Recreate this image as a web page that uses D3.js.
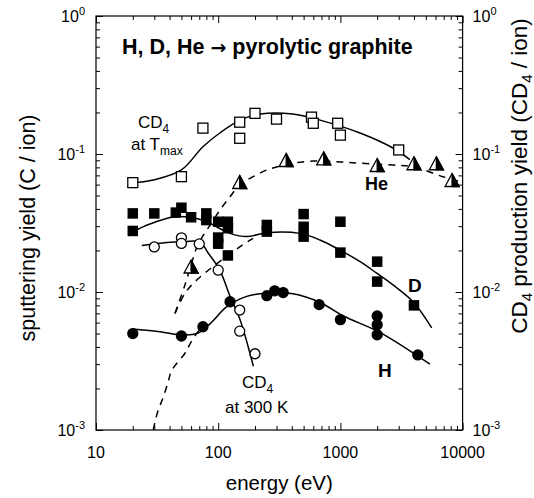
<!DOCTYPE html>
<meta charset="utf-8">
<body style="margin:0">
<div id="chart"></div>
<script src="https://d3js.org/d3.v7.min.js"></script>
<script>
// axis ticks
var xTicks = [10, 100, 1000, 10000];
var yTicks = [1e-3, 1e-2, 1e-1, 1];

// H -> C sputtering yield (filled circles) and fit
var hData = [[20,0.0050],[50,0.0048],[75,0.0056],[125,0.0085],[250,0.0094],[290,0.0102],[340,0.0099],
  [670,0.0081],[1000,0.0063],[2000,0.0067],[2000,0.0058],[2000,0.0049],[4300,0.0035]];
var hFit = [[20,0.0054],[31,0.0052],[49,0.0049],[67,0.0050],[86,0.0059],[117,0.0078],[171,0.0093],
  [250,0.0098],[410,0.0097],[680,0.0084],[1060,0.0067],[2100,0.0051],[5400,0.0030]];
var hLow = [[29.4,0.001],[32,0.00136],[35.6,0.00174],[39,0.00224],[41.6,0.0027],[53.5,0.0036],
  [57,0.0040],[62.4,0.0046],[68.7,0.0052],[75,0.0056]];

// D -> C sputtering yield (filled squares) and fit
var dData = [[20,0.0371],[20,0.0277],[30,0.0371],[45,0.0376],[50,0.0408],[60,0.0348],[80,0.0371],
  [80,0.0332],[100,0.0323],[120,0.0323],[120,0.0290],[100,0.0248],[100,0.0224],[120,0.0184],
  [250,0.0306],[250,0.0274],[500,0.0367],[500,0.0297],[500,0.0252],[1000,0.0323],[1000,0.0193],
  [2000,0.0166],[2000,0.0119],[4000,0.0080]];
var dFit = [[18.4,0.0255],[23,0.029],[31,0.0323],[44,0.0351],[59,0.0348],[78,0.0327],[97,0.0297],
  [125,0.0266],[171,0.0252],[250,0.0269],[467,0.0266],[681,0.0238],[993,0.0201],[1450,0.0166],
  [1980,0.0137],[2710,0.0112],[3930,0.0085],[5590,0.0055]];
var dLow = [[44.3,0.0070],[53.5,0.0098],[66.7,0.0122],[91,0.0153],[151,0.0213],[193,0.0245]];

// He -> C sputtering yield (half filled triangles) and fit
var heData = [[60,0.0153],[150,0.0627],[360,0.0905],[730,0.093],[2000,0.0832],[4000,0.0857],
  [6100,0.0857],[8200,0.0648]];
var heFit = [[44.3,0.0070],[53,0.0110],[61,0.0165],[66.7,0.0210],[73,0.0245],[86,0.0306],
  [105,0.040],[125,0.049],[150,0.0596],[193,0.0685],[250,0.0766],[300,0.0806],[410,0.0857],
  [600,0.089],[930,0.088],[1450,0.0857],[2700,0.0832],[3900,0.081],[6900,0.0685],[9600,0.063]];

// CD4 production at T max (open squares) and fit
var tmaxData = [[20,0.062],[50,0.0685],[75,0.154],[150,0.170],[150,0.130],[200,0.197],[300,0.179],
  [580,0.185],[600,0.167],[950,0.167],[1000,0.137],[3000,0.107]];
var tmaxFit = [[18.4,0.0613],[30,0.065],[50,0.0766],[75,0.113],[103,0.142],[151,0.176],[220,0.195],
  [409,0.195],[681,0.176],[1447,0.142],[2692,0.1105],[3700,0.091]];

// CD4 production at 300 K (open circles) and fit
var rtData = [[30,0.0212],[50,0.0247],[50,0.0225],[70,0.0223],[100,0.0144],[150,0.0074],
  [150,0.0052],[200,0.00357]];
var rtFit = [[23.7,0.0217],[38,0.0228],[50,0.0231],[71,0.023],[83,0.0191],[103,0.0144],
  [125,0.0093],[151,0.0063],[194,0.0029]];

var width = 534, height = 498;
var plotL = 96, plotR = 462.6, plotT = 16, plotB = 430;
var font = "'Liberation Sans', Arial, sans-serif";

var x = d3.scaleLog().domain([10, 10000]).range([plotL, plotR]);
var y = d3.scaleLog().domain([1e-3, 1]).range([plotB, plotT]);

var svg = d3.select("#chart").append("svg")
  .attr("width", width).attr("height", height)
  .style("font-family", font);

svg.append("clipPath").attr("id", "plot")
  .append("rect").attr("x", plotL).attr("y", plotT)
  .attr("width", plotR - plotL).attr("height", plotB - plotT);

// minor ticks
var minorX = x.ticks().filter(function(d) { return xTicks.indexOf(d) < 0; });
var minorY = y.ticks().filter(function(d) { return yTicks.indexOf(d) < 0; });

function axisSet(g, axis, major, minor) {
  g.call(axis.tickValues(minor).tickSize(-4).tickFormat(""));
  var m = g.append("g");
  m.call(axis.tickValues(major).tickSize(-7));
  m.select(".domain").remove();
  g.selectAll("text").remove();
  g.select(".domain").remove();
  g.selectAll("line").attr("stroke", "#000");
}

svg.append("g").attr("transform", "translate(0," + plotB + ")")
  .call(axisSet, d3.axisBottom(x), xTicks, minorX);
svg.append("g").attr("transform", "translate(0," + plotT + ")")
  .call(axisSet, d3.axisTop(x), xTicks, minorX);
svg.append("g").attr("transform", "translate(" + plotL + ",0)")
  .call(axisSet, d3.axisLeft(y), yTicks, minorY);
svg.append("g").attr("transform", "translate(" + plotR + ",0)")
  .call(axisSet, d3.axisRight(y), yTicks, minorY);
svg.append("rect").attr("x", plotL).attr("y", plotT)
  .attr("width", plotR - plotL).attr("height", plotB - plotT)
  .attr("fill", "none").attr("stroke", "#000").attr("stroke-width", 1.2);

// tick labels
svg.append("g").selectAll("text").data(xTicks).enter().append("text")
  .attr("x", function(d) { return x(d); })
  .attr("y", plotB + 28)
  .attr("text-anchor", "middle")
  .style("font-size", "16px")
  .text(function(d) { return d; });

function powLabel(sel) {
  sel.style("font-size", "16px")
    .text("10")
    .append("tspan").attr("dy", -7).style("font-size", "11px")
    .text(function(d) { return Math.round(Math.log10(d)); });
}
svg.append("g").selectAll("text").data(yTicks).enter().append("text")
  .attr("x", plotL - 11).attr("y", function(d) { return y(d) + 6; })
  .attr("text-anchor", "end").call(powLabel);
svg.append("g").selectAll("text").data(yTicks).enter().append("text")
  .attr("x", plotR + 10).attr("y", function(d) { return y(d) + 6; })
  .attr("text-anchor", "start").call(powLabel);

// axis titles
svg.append("text").attr("x", (plotL + plotR) / 2).attr("y", 490)
  .attr("text-anchor", "middle").style("font-size", "20.5px").text("energy (eV)");
svg.append("text").attr("transform", "translate(35,228) rotate(-90)")
  .attr("text-anchor", "middle").style("font-size", "21.5px").text("sputtering yield (C / ion)");
var rt = svg.append("text").attr("transform", "translate(527,176) rotate(-90)")
  .attr("text-anchor", "middle").style("font-size", "22.5px");
rt.append("tspan").text("CD");
rt.append("tspan").attr("dy", 5).style("font-size", "15px").text("4");
rt.append("tspan").attr("dy", -5).text(" production yield (CD");
rt.append("tspan").attr("dy", 5).style("font-size", "15px").text("4");
rt.append("tspan").attr("dy", -5).text(" / ion)");

// curves
var line = d3.line()
  .x(function(d) { return x(d[0]); })
  .y(function(d) { return y(d[1]); })
  .curve(d3.curveCatmullRom.alpha(0.5));

var curves = svg.append("g").attr("clip-path", "url(#plot)")
  .attr("fill", "none").attr("stroke", "#000").attr("stroke-width", 1.5);
[tmaxFit, dFit, hFit, rtFit].forEach(function(c) {
  curves.append("path").attr("d", line(c));
});
[heFit, dLow, hLow].forEach(function(c) {
  curves.append("path").attr("d", line(c)).attr("stroke-dasharray", "7,6");
});

// markers
var marks = svg.append("g").attr("stroke", "#000").attr("stroke-width", 1.3);
marks.selectAll(".sq").data(tmaxData).enter().append("rect")
  .attr("x", function(d) { return x(d[0]) - 5; })
  .attr("y", function(d) { return y(d[1]) - 5; })
  .attr("width", 10).attr("height", 10).attr("fill", "#fff");
marks.selectAll(".fsq").data(dData).enter().append("rect")
  .attr("x", function(d) { return x(d[0]) - 4.6; })
  .attr("y", function(d) { return y(d[1]) - 4.6; })
  .attr("width", 9.2).attr("height", 9.2).attr("fill", "#000");
marks.selectAll(".fc").data(hData).enter().append("circle")
  .attr("cx", function(d) { return x(d[0]); })
  .attr("cy", function(d) { return y(d[1]); })
  .attr("r", 5).attr("fill", "#000");
marks.selectAll(".oc").data(rtData).enter().append("circle")
  .attr("cx", function(d) { return x(d[0]); })
  .attr("cy", function(d) { return y(d[1]); })
  .attr("r", 5).attr("fill", "#fff");
var tri = marks.selectAll(".tri").data(heData).enter().append("g")
  .attr("transform", function(d) { return "translate(" + x(d[0]) + "," + y(d[1]) + ")"; });
tri.append("path").attr("d", "M-7,6.5L0,-6.5L7,6.5Z").attr("fill", "#fff");
tri.append("path").attr("d", "M0,-6.5L7,6.5L0,6.5Z").attr("fill", "#000");

// annotations
var title = svg.append("text").attr("x", 122).attr("y", 54)
  .style("font-size", "21.5px").style("font-weight", "bold");
title.append("tspan").text("H, D, He ");
title.append("tspan").style("font-family", "'DejaVu Sans'").style("font-size", "19px").text("\u2192");
title.append("tspan").text(" pyrolytic graphite");

function cd4(xp, yp) {
  var t = svg.append("text").attr("x", xp).attr("y", yp).style("font-size", "17px");
  t.append("tspan").text("CD");
  t.append("tspan").attr("dy", 5).style("font-size", "12px").text("4");
}
cd4(138, 128);
var at = svg.append("text").attr("x", 131).attr("y", 150).style("font-size", "17px");
at.append("tspan").text("at T");
at.append("tspan").attr("dy", 5).style("font-size", "12px").text("max");
cd4(242, 388);
svg.append("text").attr("x", 225).attr("y", 413).style("font-size", "17px").text("at 300 K");

svg.append("text").attr("x", 365).attr("y", 190).style("font-size", "18px")
  .style("font-weight", "bold").text("He");
svg.append("text").attr("x", 408).attr("y", 292).style("font-size", "19px")
  .style("font-weight", "bold").text("D");
svg.append("text").attr("x", 378).attr("y", 377).style("font-size", "19px")
  .style("font-weight", "bold").text("H");
</script>
